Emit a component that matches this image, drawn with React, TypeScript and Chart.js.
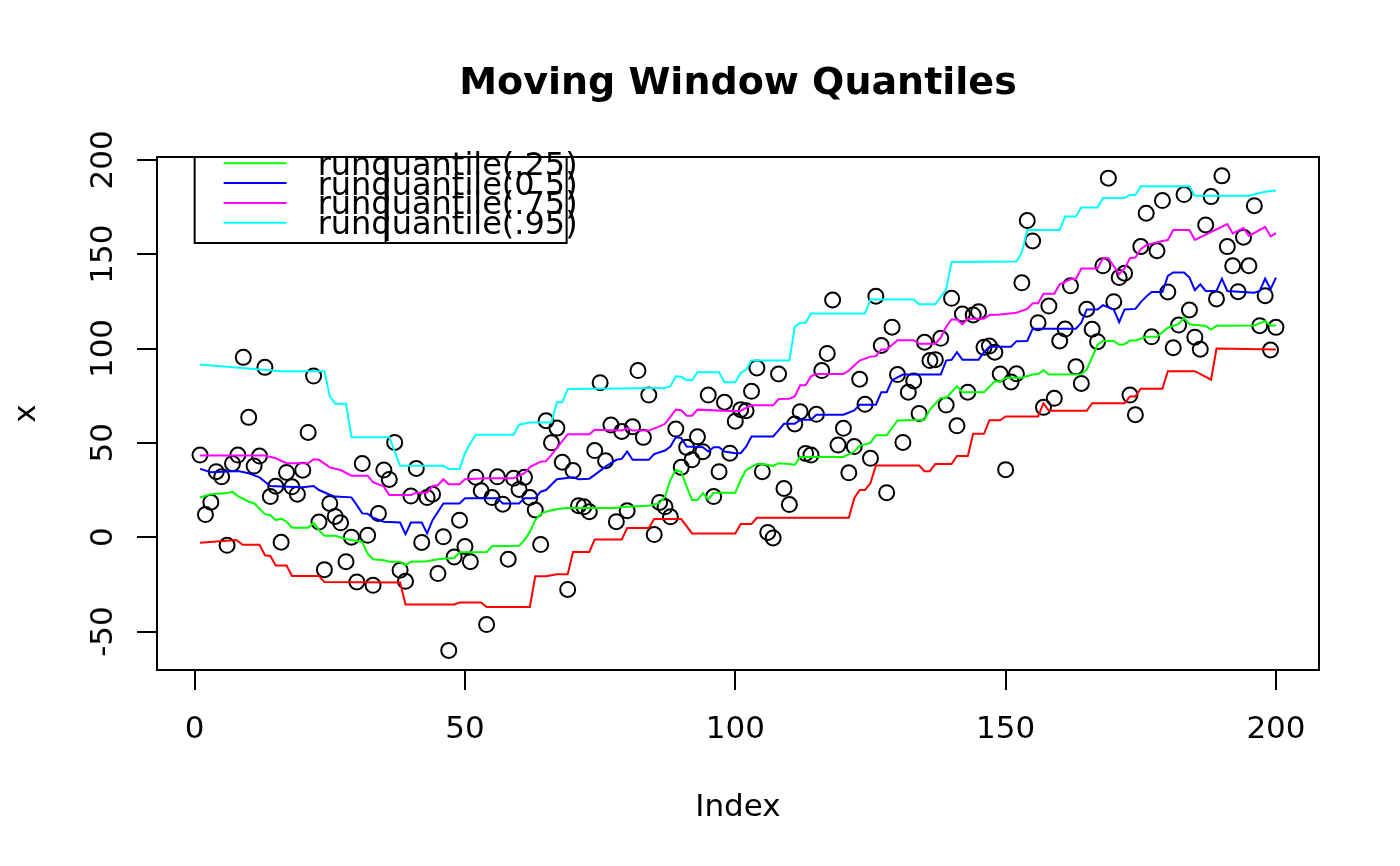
import { useEffect, useRef } from "react"
import { Chart, registerables } from "chart.js"

Chart.register(...registerables)

const FONT = "'DejaVu Sans', sans-serif"
const TITLE = "Moving Window Quantiles"

// observed series x[1..200]
const x = [
  43.5, 12, 18.5, 34.7, 32, -4.3, 39, 43.5, 95.3, 63.5,
  37.7, 43, 90, 21.5, 27, -2.7, 34.3, 26.7, 22.8, 35.5,
  55.5, 85.4, 8, -17.2, 17.9, 11, 7.6, -13, 0, -23.7,
  39, 1, -25.5, 12.6, 35.6, 30.6, 50.2, -17.5, -23.4, 21.8,
  36.4, -2.8, 21, 22.8, -19.3, 0.2, -60, -10.5, 9, -5,
  -13, 31.8, 24.6, -46.3, 21, 32, 17.5, -11.7, 31.2, 25.3,
  31.7, 21, 14.4, -3.9, 61.7, 50, 57.8, 39.7, -27.7, 35.3,
  16.7, 16.1, 13.5, 45.9, 81.9, 40.5, 59.4, 8.2, 56, 14,
  58.5, 88.3, 52.9, 75.3, 1.4, 18.4, 16.1, 10.8, 57.3, 37,
  47.6, 41, 53.2, 45.3, 75.3, 21.5, 34.7, 71.5, 44.5, 61.5,
  67.6, 67, 77.3, 89.7, 34.7, 2.5, -0.4, 86.5, 25.8, 17.3,
  60, 66.5, 44.4, 43.5, 65.1, 88.3, 97.4, 125.7, 48.8, 57.7,
  34.1, 48, 83.7, 70.4, 41.8, 127.7, 101.6, 23.6, 111.3, 86.2,
  50.2, 76.8, 82.8, 65.6, 103.3, 93.6, 94.1, 105.4, 70, 126.6,
  59, 118.3, 76.8, 117.8, 119.5, 100.6, 101.3, 98, 86.5, 35.8,
  82.3, 86.6, 134.8, 167.8, 157, 113.7, 68.8, 122.5, 73.6, 104,
  110.3, 133.2, 90.3, 81.5, 120.8, 110.2, 103.6, 143.8, 190.3, 124.8,
  137.6, 139.9, 75.3, 64.9, 154, 171.7, 106.2, 151.8, 178.4, 130,
  100.4, 112.4, 181.6, 120.4, 106, 99.6, 165.5, 180.5, 126.3, 191.5,
  154, 143.8, 130.1, 159, 143.8, 175.7, 112.1, 128, 99.2, 111.2,
]

// running quantile curves, read as breakpoints (index, value)
const q05Idx = [1, 7.7, 8.9, 12, 13, 14, 15, 17, 18, 23, 24, 38, 39, 48, 49, 53, 54, 62, 63, 65, 67, 69, 70, 73, 74, 79, 80, 84, 85, 90, 92, 100, 101, 103, 104, 121, 122, 123, 124, 125, 126, 134, 135, 136, 137, 140, 141, 143, 144, 146, 147, 149, 150, 156, 157, 158, 165, 166, 172, 173, 174, 175, 179, 180, 185, 188, 189, 200]
const q05 = [-3, -1.5, -4, -4, -9.6, -10, -15, -15, -20.6, -20.6, -23.8, -24, -35.7, -35.7, -34.6, -34.6, -37, -37, -20.7, -20.7, -19.7, -19.7, -7.8, -7.8, -1.2, -1.2, 4.8, 4.8, 9.6, 9.6, 2, 2, 7, 7, 10.3, 10.3, 20.7, 25, 25, 28.7, 38, 38, 35, 35, 38.8, 38.8, 43, 43, 54.8, 54.8, 62, 62, 64, 64, 71, 67, 67, 71, 71, 74.6, 74.6, 78.7, 78.7, 88, 88, 83.5, 100, 99.5]

const q25Idx = [1, 3, 6, 7, 8, 10, 11, 13, 14, 15, 16, 17, 18, 21, 22, 23, 24, 26, 28, 31, 32, 33, 35, 36, 38, 39, 40, 43, 45, 46, 48, 49, 54, 55, 60, 61, 62, 63, 64, 65, 67, 69, 78, 79, 84, 86, 87, 88, 89, 90, 91, 92, 93, 94, 95, 96, 100, 101, 102, 104, 105, 107, 108, 110, 111, 112, 120, 122, 123, 125, 126, 128, 130, 135, 136, 138, 139, 141, 142, 146, 148, 149, 150, 153, 155, 156, 157, 158, 164, 165, 167, 168, 170, 171, 172, 173, 174, 175, 176, 178, 180, 182, 183, 184, 187, 188, 189, 196, 198, 199, 200]
const q25 = [21, 22.8, 23.4, 24, 21.8, 18.8, 18, 12.2, 11.7, 9, 9.8, 8.2, 5, 5, 7.6, 3.7, 0.7, 0.7, -1, -2.5, -8.7, -11.7, -12.2, -13, -13, -14.9, -13, -12.8, -11.7, -11.5, -11, -8, -7.8, -4.8, -4.6, -1.6, 2.8, 9, 12.2, 13.5, 14.9, 15.4, 15.4, 16, 16.7, 18, 21.5, 30.3, 35.6, 34.7, 26.8, 19.7, 19.7, 23.4, 20, 23.6, 23.6, 30.3, 35.6, 38.8, 38.8, 37.8, 39.2, 38.8, 38.3, 42.5, 42.5, 45.4, 48.4, 50, 54, 54, 61.9, 62.2, 67.6, 73.8, 73.8, 80, 76.8, 76.8, 82.6, 82.4, 84.5, 84.5, 86.2, 86.5, 88.5, 86.2, 86.3, 88.8, 102, 104, 104, 102, 102.3, 104.3, 104.3, 105.2, 106.2, 106.2, 111, 113, 116.3, 112.8, 111.9, 110, 112, 112.2, 114.5, 112.2, 112.2]

const q50Idx = [1, 3, 8, 10, 12, 13, 14, 16, 20, 22, 23, 25, 26, 29, 30, 31, 32, 33, 35, 38, 39, 40, 42, 43, 44, 46, 49, 50, 56, 57, 60, 61, 63, 64, 65, 67, 70, 71, 73, 74, 76, 78, 79, 80, 81, 84, 85, 87, 88, 89, 90, 91, 94, 95, 96, 97, 98, 100, 101, 102, 103, 107, 108, 109, 111, 112, 114, 115, 120, 122, 123, 126, 127, 128, 129, 131, 138, 139, 140, 141, 142, 145, 146, 147, 151, 152, 154, 155, 163, 164, 165, 167, 168, 170, 171, 172, 174, 175, 176, 177, 179, 180, 181, 183, 184, 185, 186, 187, 189, 190, 191, 196, 197, 198, 199, 200]
const q50 = [36.2, 34.4, 35.1, 33.9, 31.7, 29.4, 27.1, 26.8, 26.4, 27.1, 25, 22.5, 21.5, 21.1, 17, 12.6, 12.4, 10.3, 8.2, 7.8, 1.6, 7.8, 7.8, 2, 9, 17.9, 17.9, 20.6, 20.6, 17.9, 17.9, 20.6, 20.6, 24.1, 25, 30.7, 31.7, 30.7, 31, 33, 37.4, 41, 41.5, 45.4, 41, 41, 44, 45.9, 48, 53, 52.5, 48, 47.7, 45.4, 47.7, 47.7, 45.4, 44.5, 44.5, 48, 53.4, 53.4, 56.6, 60.1, 60.1, 62.2, 62.2, 64.9, 64.9, 67.2, 70.2, 70.2, 76.8, 76.8, 83.2, 86.2, 86.2, 93.6, 94, 98, 94.1, 94.1, 98, 100.9, 100.9, 103.9, 104, 110.5, 110.5, 113.7, 120.7, 120.7, 123, 120.7, 114, 120.7, 121, 124.6, 127.5, 130, 130, 138.5, 140.3, 140.3, 137.6, 130.9, 134, 130.5, 130.5, 137, 130.5, 129.6, 130.5, 137, 131.4, 137.6]

const q75Idx = [1, 13, 15, 17, 21, 22, 23, 25, 27, 29, 32, 33, 35, 36, 40, 41, 43, 44, 45, 46, 47, 49, 50, 54, 59, 61, 62, 64, 65, 66, 67, 69, 73, 74, 79, 80, 81, 84, 86, 87, 89, 90, 91, 92, 93, 100, 101, 103, 107, 108, 110, 111, 112, 113, 114, 115, 120, 121, 122, 123, 125, 126, 127, 128, 130, 133, 134, 137, 138, 139, 140, 141, 142, 143, 146, 147, 149, 152, 154, 155, 156, 157, 159, 160, 162, 163, 164, 167, 168, 169, 171, 172, 173, 174, 175, 176, 179, 180, 181, 184, 185, 191, 192, 194, 195, 198, 199, 200]
const q75 = [43.3, 43.3, 41.8, 39.2, 39.2, 41.3, 41, 37, 35.6, 32.6, 32.6, 29.1, 26.8, 22.3, 22.3, 23.6, 23.6, 27.1, 27.5, 30.7, 28, 28, 30.7, 31.2, 31.2, 33.9, 37.1, 40, 40.3, 43.6, 47.2, 54.6, 54.6, 56.9, 56.5, 57.8, 56.5, 56.5, 58.7, 60.1, 67.6, 67.3, 64.4, 64.4, 67.6, 66.7, 67, 69.9, 69.9, 73.2, 73.4, 74.6, 80.5, 80.5, 85.3, 86.5, 86.5, 88.3, 91, 93.6, 95.7, 95.9, 99.5, 99.5, 104.4, 104.4, 102.5, 102.5, 105.7, 111.5, 115.4, 115.4, 112.8, 115.8, 115.8, 117.7, 118, 119, 121, 124, 124, 129, 129, 134, 136.7, 137, 142.4, 142.4, 147.9, 147.9, 139.4, 142.4, 147.9, 148.2, 152.7, 154.8, 157, 157.5, 162.8, 162.8, 157.6, 166, 161, 163.8, 159.7, 164.5, 159.4, 161.2]

const q95Idx = [1, 16, 24, 25, 26, 28, 29, 36, 38, 46, 47, 49, 50, 51, 52, 59, 60, 62, 66, 67, 68, 69, 87, 88, 89, 90, 91, 92, 93, 97, 98, 100, 101, 102, 103, 110, 111, 112, 113, 114, 124, 125, 133, 134, 137, 139, 140, 152, 153, 154, 160, 161, 163, 164, 167, 168, 172, 173, 174, 175, 184, 185, 195, 198, 200]
const q95 = [91.5, 88, 88, 74.6, 70.7, 70.7, 53, 53, 37.8, 37.8, 36.2, 36.2, 44.5, 49.8, 54.3, 54.3, 59.6, 60.8, 60.8, 71.5, 71.5, 78.5, 79, 80, 85.3, 85, 83.2, 83.2, 87.4, 87.4, 82.1, 82.1, 87, 88.8, 93.6, 93.6, 111.5, 113.7, 113.7, 118.6, 118.6, 126, 126, 123.4, 123.4, 131.4, 145.9, 146.1, 150.9, 162.8, 162.8, 169.9, 169.9, 174.8, 174.8, 179.8, 179.8, 181.4, 181.4, 186, 186, 181, 181, 183.1, 183.7]

const xTicks = [0, 50, 100, 150, 200]
const yTicks = [-50, 0, 50, 100, 150, 200]

const legendLabels = ["runquantile(.25)", "runquantile(0.5)", "runquantile(.75)", "runquantile(.95)"]
const legendColors = ["#00FF00", "#0000FF", "#FF00FF", "#00FFFF"]

const toXY = (ix: number[], vals: number[]) => ix.map((v, i) => ({ x: v, y: vals[i] }))

const lineSet = (data: number[], ix: number[], color: string) => ({
  data: toXY(ix, data),
  showLine: true,
  borderColor: color,
  borderWidth: 2,
  pointRadius: 0,
  order: 0,
})

// title, axis text, box and the R-style legend
const decorations = {
  id: "decorations",
  afterDraw(chart: any) {
    const { ctx, chartArea: a, scales } = chart
    const xs = scales.x
    const ys = scales.y
    const cx = (a.left + a.right) / 2
    ctx.save()
    ctx.strokeStyle = "#000"
    ctx.lineWidth = 2
    ctx.strokeRect(a.left, a.top, a.right - a.left, a.bottom - a.top)

    ctx.fillStyle = "#000"
    ctx.textAlign = "center"
    ctx.textBaseline = "alphabetic"
    ctx.font = `bold 38px ${FONT}`
    ctx.fillText(TITLE, cx, a.top - 63)

    ctx.font = `31px ${FONT}`
    xTicks.forEach((v) => ctx.fillText(String(v), xs.getPixelForValue(v), a.bottom + 68))
    ctx.fillText("Index", cx, a.bottom + 146)
    yTicks.forEach((v) => {
      ctx.save()
      ctx.translate(a.left - 45.5, ys.getPixelForValue(v))
      ctx.rotate(-Math.PI / 2)
      ctx.fillText(String(v), 0, 0)
      ctx.restore()
    })
    ctx.save()
    ctx.translate(a.left - 122, (a.top + a.bottom) / 2)
    ctx.rotate(-Math.PI / 2)
    ctx.fillText("x", 0, 0)
    ctx.restore()

    // legend
    const lx = xs.getPixelForValue(0)
    ctx.strokeRect(lx, a.top, 372, 86)
    ctx.beginPath()
    ctx.moveTo(lx + 191, a.top)
    ctx.lineTo(lx + 191, a.top + 86)
    ctx.stroke()
    ctx.textAlign = "left"
    ctx.font = `32px ${FONT}`
    legendLabels.forEach((label, k) => {
      const ry = a.top + 6.3 + 19.8 * k
      ctx.strokeStyle = legendColors[k]
      ctx.beginPath()
      ctx.moveTo(lx + 29, ry)
      ctx.lineTo(lx + 92, ry)
      ctx.stroke()
      ctx.fillText(label, lx + 123, ry + 11.5)
    })
    ctx.restore()
  },
}

export default function App() {
  const chartRef = useRef<HTMLCanvasElement>(null)
  const chartInstance = useRef<Chart | null>(null)

  useEffect(() => {
    document.body.style.margin = "0"
    if (chartRef.current) {
      if (chartInstance.current) {
        chartInstance.current.destroy()
      }
      const ctx = chartRef.current.getContext("2d")
      if (ctx) {
        chartInstance.current = new Chart(ctx, {
          type: "scatter",
          data: {
            datasets: [
              {
                data: x.map((v, i) => ({ x: i + 1, y: v })),
                pointRadius: 7.5,
                pointBorderWidth: 2,
                pointBorderColor: "#000",
                pointBackgroundColor: "rgba(0,0,0,0)",
                order: 10,
              },
              lineSet(q05, q05Idx, "#FF0000"),
              lineSet(q25, q25Idx, "#00FF00"),
              lineSet(q50, q50Idx, "#0000FF"),
              lineSet(q75, q75Idx, "#FF00FF"),
              lineSet(q95, q95Idx, "#00FFFF"),
            ] as any,
          },
          options: {
            animation: false,
            responsive: true,
            maintainAspectRatio: false,
            events: [],
            layout: { padding: { top: 157, right: 81, left: 0, bottom: 0 } },
            plugins: {
              legend: { display: false },
              title: { display: false },
              tooltip: { enabled: false },
            },
            scales: {
              x: {
                type: "linear",
                min: -6.96,
                max: 207.96,
                afterBuildTicks: (s: any) => {
                  s.ticks = xTicks.map((v) => ({ value: v }))
                },
                afterFit: (s: any) => {
                  s.height = 196
                },
                ticks: { display: false },
                grid: { drawOnChartArea: false, drawTicks: true, tickLength: 20, color: "#000", lineWidth: 2 },
                border: { display: true, color: "#000", width: 2 },
              },
              y: {
                type: "linear",
                min: -70.4,
                max: 201.5,
                afterBuildTicks: (s: any) => {
                  s.ticks = yTicks.map((v) => ({ value: v }))
                },
                afterFit: (s: any) => {
                  s.width = 157
                },
                ticks: { display: false },
                grid: { drawOnChartArea: false, drawTicks: true, tickLength: 20, color: "#000", lineWidth: 2 },
                border: { display: true, color: "#000", width: 2 },
              },
            },
          },
          plugins: [decorations],
        })
      }
    }
    return () => {
      if (chartInstance.current) {
        chartInstance.current.destroy()
        chartInstance.current = null
      }
    }
  }, [])

  return (
    <div style={{ position: "fixed", left: 0, top: 0, width: 1400, height: 866, background: "#fff" }}>
      <canvas ref={chartRef} />
    </div>
  )
}
